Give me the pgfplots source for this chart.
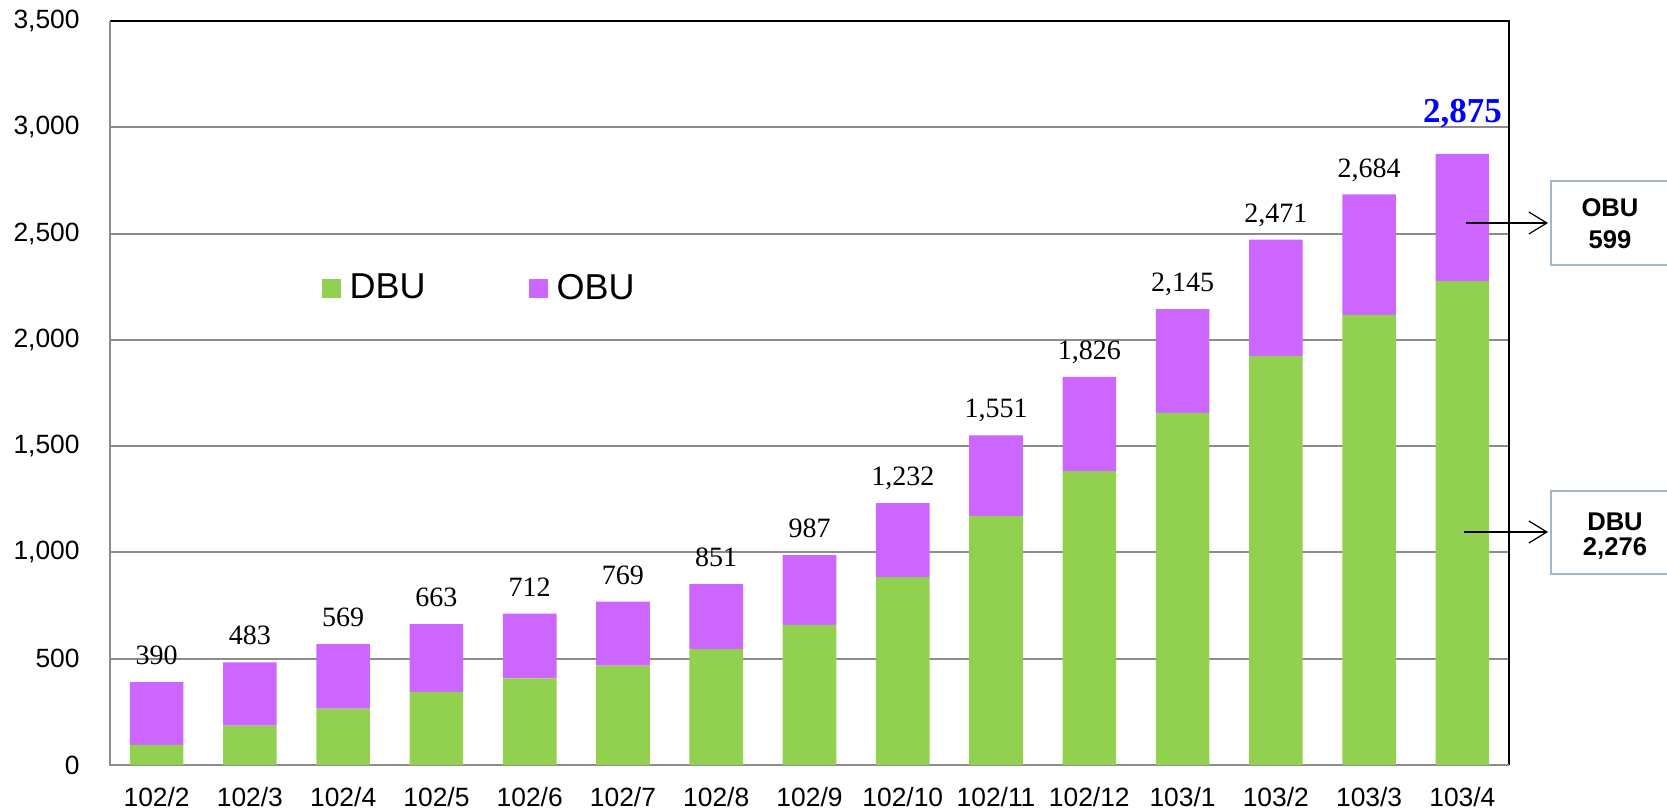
\documentclass[border=0pt]{standalone}
\usepackage{pgfplots}
\pgfplotsset{compat=1.18}
\usepackage{pgfplotstable}
\usepackage{fontspec}
\setmainfont{Liberation Sans}
\newfontfamily\serifnum{Liberation Serif}
\usetikzlibrary{arrows.meta}
\definecolor{dbugreen}{RGB}{146,208,80}
\definecolor{obupurple}{RGB}{204,102,255}
\definecolor{gridgray}{RGB}{140,140,140}
\definecolor{boxedge}{RGB}{166,182,201}

\pgfplotstableread{
x dbu obu total
0 95 295 390
1 185 298 483
2 265 304 569
3 344 319 663
4 408 304 712
5 467 302 769
6 545 306 851
7 659 328 987
8 884 348 1232
9 1171 380 1551
10 1382 444 1826
11 1656 489 2145
12 1925 546 2471
13 2118 566 2684
14 2276 599 2875
}\datatable

\pgfplotsset{sharedgeom/.style={
  at={(55pt,22.5pt)}, anchor=south west,
  scale only axis, width=699.5pt, height=372pt,
  xmin=-0.5, xmax=14.5, ymin=0, ymax=3500, clip=false}}

\begin{document}
\begin{tikzpicture}
\path[use as bounding box] (0pt,0pt) rectangle (833.5pt,405pt);
\begin{axis}[
  sharedgeom,
  ybar stacked, bar width=26.8pt,
  xtick=data,
  xticklabels={102/2,102/3,102/4,102/5,102/6,102/7,102/8,102/9,102/10,102/11,102/12,103/1,103/2,103/3,103/4},
  ytick={0,500,...,3500},
  /pgf/number format/.cd, 1000 sep={,}, assume math mode=true, /pgfplots/.cd,
  ymajorgrids, grid style={gridgray, line width=1pt},
  axis line style={draw=none},
  major tick length=0pt,
  tick label style={font=\fontsize{13.2}{15}\selectfont},
  yticklabel style={inner sep=0pt, anchor=east, xshift=-15pt},
  xticklabel style={inner sep=0pt, anchor=north, yshift=-11pt},
  legend style={at={(axis description cs:0.151,0.641)}, anchor=west, draw=none, fill=none,
    inner sep=0pt, font=\fontsize{18}{20}\selectfont,
    /tikz/every odd column/.append style={column sep=2.5pt},
    /tikz/every even column/.append style={column sep=49.5pt}},
  legend columns=2,
  legend image code/.code={\fill[#1] (0pt,-4.75pt) rectangle (9.5pt,4.75pt);},
]
\addplot[fill=dbugreen, draw=none] table[x=x, y=dbu] {\datatable};
\addlegendentry{DBU}
\addplot[fill=obupurple, draw=none] table[x=x, y=obu] {\datatable};
\addlegendentry{OBU}
\draw[gridgray, line width=1.3pt] (rel axis cs:0,1) -- (rel axis cs:0,0) -- (rel axis cs:1,0);
\draw[black, line width=1pt] (rel axis cs:0,1) -- (rel axis cs:1,1) -- (rel axis cs:1,0);
\end{axis}
% totals above the bars, same geometry
\begin{axis}[
  sharedgeom, hide axis,
  /pgf/number format/.cd, 1000 sep={,}, assume math mode=true, /pgfplots/.cd,
]
\addplot[draw=none, mark=none,
  point meta=\thisrow{total},
  visualization depends on={value \coordindex \as \myidx},
  nodes near coords={\ifnum\myidx=14\relax\raisebox{15pt}[0pt][0pt]{\makebox[0pt][c]{\color{blue}\bfseries\fontsize{17.5}{19}\selectfont\pgfmathprintnumber{\pgfplotspointmeta}}}\else\raisebox{8pt}[0pt][0pt]{\makebox[0pt][c]{\pgfmathprintnumber{\pgfplotspointmeta}}}\fi},
  nodes near coords style={font=\serifnum\fontsize{14}{16}\selectfont, inner sep=0pt, color=black},
] table[x=x, y=total] {\datatable};
\end{axis}
% annotation arrows and boxes
\draw[line width=0.6pt, -{Straight Barb[length=9pt,width=11pt]}] (732.8pt,293.5pt) -- (774pt,293.5pt);
\draw[line width=0.6pt, -{Straight Barb[length=9pt,width=11pt]}] (732pt,139pt) -- (774pt,139pt);
\draw[boxedge, line width=1pt] (834pt,314.5pt) -- (775.5pt,314.5pt) -- (775.5pt,272.5pt) -- (834pt,272.5pt);
\draw[boxedge, line width=1pt] (834pt,159.7pt) -- (775.5pt,159.7pt) -- (775.5pt,117.8pt) -- (834pt,117.8pt);
\node[font=\bfseries\fontsize{12.8}{14}\selectfont, inner sep=0pt] at (805pt,301.2pt) {OBU};
\node[font=\bfseries\fontsize{12.8}{14}\selectfont, inner sep=0pt] at (805pt,285pt) {599};
\node[font=\bfseries\fontsize{12.8}{14}\selectfont, inner sep=0pt] at (807.5pt,144.2pt) {DBU};
\node[font=\bfseries\fontsize{12.8}{14}\selectfont, inner sep=0pt] at (807.5pt,130.8pt) {2,276};
\end{tikzpicture}
\end{document}
